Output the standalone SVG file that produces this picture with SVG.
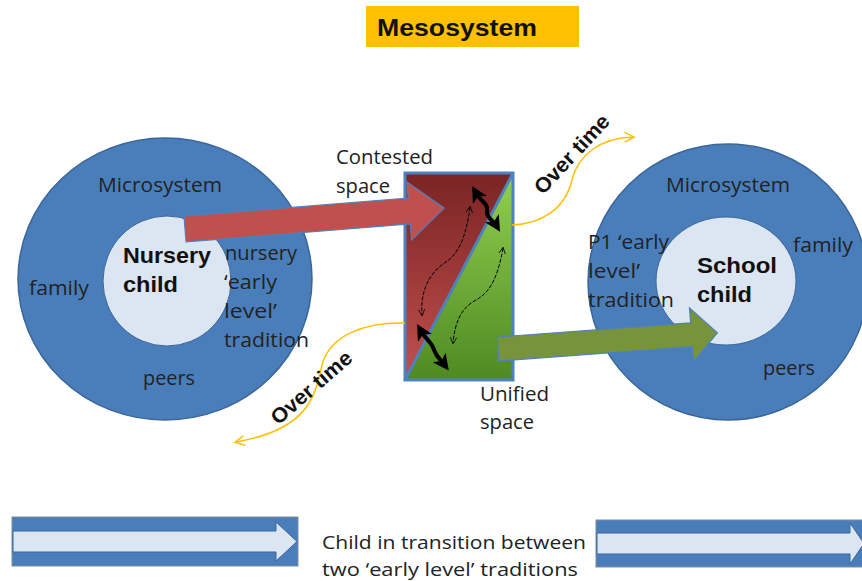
<svg xmlns="http://www.w3.org/2000/svg" width="862" height="581" viewBox="0 0 862 581">
  <style>
    .lbl { font-family: "Open Sans", "Noto Sans", sans-serif; font-size: 20px; fill: #222; }
    .big { font-family: "Liberation Sans", Arial, sans-serif; font-weight: bold; font-size: 22px; fill: #111; }
    .time { font-family: "Liberation Sans", Arial, sans-serif; font-weight: bold; font-size: 21px; fill: #111; }
    .leg { font-family: "Open Sans", "Noto Sans", sans-serif; font-size: 19px; fill: #222; }
    .outer { fill: #4A7EBB; stroke: #3A6699; stroke-width: 1.5; }
    .inner { fill: #DCE6F2; stroke: #3A6699; stroke-width: 1; }
    .thick { fill: none; stroke: #000; stroke-width: 4; }
    .thin { fill: none; stroke: #000; stroke-width: 1; stroke-dasharray: 4 1.5; }
    .flow { fill: none; stroke: #FFC000; stroke-width: 1.5; }
  </style>
  <defs>
    <linearGradient id="redFill" x1="0" y1="0" x2="0" y2="1">
      <stop offset="0" stop-color="#7A2424"/>
      <stop offset="1" stop-color="#C0504D"/>
    </linearGradient>
    <linearGradient id="greenFill" x1="0" y1="0" x2="0" y2="1">
      <stop offset="0" stop-color="#92D050"/>
      <stop offset="1" stop-color="#4E8A22"/>
    </linearGradient>
    <marker id="headThick" viewBox="0 0 10 10" refX="5" refY="5" markerWidth="4" markerHeight="4" orient="auto-start-reverse">
      <path d="M0,0 L10,5 L0,10 L2.5,5 Z" fill="#000"/>
    </marker>
    <marker id="headThin" viewBox="0 0 10 10" refX="8" refY="5" markerWidth="8" markerHeight="8" orient="auto-start-reverse">
      <path d="M1,1 L9,5 L1,9" fill="none" stroke="#000" stroke-width="1"/>
    </marker>
    <marker id="headFlow" viewBox="0 0 10 10" refX="8" refY="5" markerWidth="8" markerHeight="8" orient="auto">
      <path d="M1,1 L9,5 L1,9" fill="none" stroke="#FFC000" stroke-width="1.2"/>
    </marker>
  </defs>

  <!-- title -->
  <g id="title">
    <rect x="366" y="6" width="213" height="41" fill="#FFC000"/>
    <text x="377" y="36" font-family="Liberation Sans, Arial, sans-serif" font-weight="bold" font-size="24" fill="#111" textLength="160" lengthAdjust="spacingAndGlyphs">Mesosystem</text>
  </g>

  <!-- nursery microsystem -->
  <g id="nursery">
    <ellipse class="outer" cx="165" cy="279" rx="147" ry="141"/>
    <ellipse class="inner" cx="167" cy="281" rx="64" ry="65"/>
    <text class="lbl" x="98" y="192" textLength="124" lengthAdjust="spacingAndGlyphs">Microsystem</text>
    <text class="big" x="123" y="263" textLength="88" lengthAdjust="spacingAndGlyphs">Nursery</text>
    <text class="big" x="123" y="292" textLength="55" lengthAdjust="spacingAndGlyphs">child</text>
    <text class="lbl" x="225" y="260" textLength="72" lengthAdjust="spacingAndGlyphs">nursery</text>
    <text class="lbl" x="224" y="289" textLength="53" lengthAdjust="spacingAndGlyphs">‘early</text>
    <text class="lbl" x="224" y="318" textLength="53" lengthAdjust="spacingAndGlyphs">level’</text>
    <text class="lbl" x="224" y="347" textLength="85" lengthAdjust="spacingAndGlyphs">tradition</text>
    <text class="lbl" x="29" y="295" textLength="60" lengthAdjust="spacingAndGlyphs">family</text>
    <text class="lbl" x="143" y="385" textLength="52" lengthAdjust="spacingAndGlyphs">peers</text>
  </g>

  <!-- school microsystem -->
  <g id="school">
    <ellipse class="outer" cx="728" cy="282" rx="140" ry="138"/>
    <ellipse class="inner" cx="726" cy="281" rx="70" ry="64"/>
    <text class="lbl" x="666" y="192" textLength="124" lengthAdjust="spacingAndGlyphs">Microsystem</text>
    <text class="lbl" x="588" y="249" textLength="81" lengthAdjust="spacingAndGlyphs">P1 ‘early</text>
    <text class="lbl" x="588" y="278" textLength="52" lengthAdjust="spacingAndGlyphs">level’</text>
    <text class="lbl" x="588" y="307" textLength="86" lengthAdjust="spacingAndGlyphs">tradition</text>
    <text class="lbl" x="793" y="252" textLength="60" lengthAdjust="spacingAndGlyphs">family</text>
    <text class="big" x="697" y="273" textLength="80" lengthAdjust="spacingAndGlyphs">School</text>
    <text class="big" x="697" y="302" textLength="55" lengthAdjust="spacingAndGlyphs">child</text>
    <text class="lbl" x="763" y="375" textLength="52" lengthAdjust="spacingAndGlyphs">peers</text>
  </g>

  <!-- mesosystem space -->
  <g id="space">
    <polygon points="405,173 513,173 405,380" fill="url(#redFill)"/>
    <polygon points="513,173 513,380 405,380" fill="url(#greenFill)"/>
    <line x1="405" y1="380" x2="513" y2="173" stroke="#4F81BD" stroke-width="3"/>
    <rect x="405" y="173" width="108" height="207" fill="none" stroke="#4F81BD" stroke-width="3"/>
    <text class="lbl" x="336" y="164" textLength="97" lengthAdjust="spacingAndGlyphs">Contested</text>
    <text class="lbl" x="336" y="193" textLength="54" lengthAdjust="spacingAndGlyphs">space</text>
    <text class="lbl" x="480" y="401" textLength="69" lengthAdjust="spacingAndGlyphs">Unified</text>
    <text class="lbl" x="480" y="429" textLength="54" lengthAdjust="spacingAndGlyphs">space</text>
  </g>

  <!-- connectors -->
  <g id="connectors">
    <!-- nursery to contested space -->
    <polygon transform="translate(185,229) rotate(-4.6)" points="0,-13 225,-13 225,-29 260,0 225,29 225,13 0,13" fill="#C0504D" stroke="#4F81BD" stroke-width="1.2"/>
    <!-- unified space to school -->
    <polygon transform="translate(498,349) rotate(-4.2)" points="0,-12 194,-12 194,-27 220,0 194,27 194,12 0,12" fill="#77933C" stroke="#4F81BD" stroke-width="1.2"/>

    <!-- movement inside the space -->
    <path class="thick" d="M476,193 C481,202 488,203 487,210 C486,218 493,220 496,225" marker-start="url(#headThick)" marker-end="url(#headThick)"/>
    <path class="thick" d="M421,331 C426,340 432,342 434,350 C437,358 441,360 444,364" marker-start="url(#headThick)" marker-end="url(#headThick)"/>
    <path class="thin" d="M470,207 C466,238 458,254 446,262 C430,272 420,290 422,315" marker-start="url(#headThin)" marker-end="url(#headThin)"/>
    <path class="thin" d="M503,248 C497,283 487,294 476,300 C461,308 455,322 453,343" marker-start="url(#headThin)" marker-end="url(#headThin)"/>

    <!-- over time -->
    <path class="flow" d="M512,225 C540,224 565,210 572,180 C578,155 600,138 633,137" marker-end="url(#headFlow)"/>
    <path class="flow" d="M405,323 C365,322 330,335 322,365 C315,400 305,430 236,442" marker-end="url(#headFlow)"/>
    <text class="time" transform="translate(577,159) rotate(-47)" text-anchor="middle" textLength="100" lengthAdjust="spacingAndGlyphs">Over time</text>
    <text class="time" transform="translate(316,393) rotate(-41)" text-anchor="middle" textLength="100" lengthAdjust="spacingAndGlyphs">Over time</text>
  </g>

  <!-- legend -->
  <g id="legend">
    <rect x="12" y="517" width="286" height="49" fill="#4A7EBB" stroke="#7F8C9C" stroke-width="1"/>
    <polygon points="13,531 276,531 276,522 297,541.5 276,561 276,552 13,552" fill="#DCE6F2" stroke="#3A6699" stroke-width="1"/>
    <rect x="596" y="520" width="270" height="47" fill="#4A7EBB" stroke="#7F8C9C" stroke-width="1"/>
    <polygon points="597,533 850,533 850,523 864,543.5 850,564 850,554 597,554" fill="#DCE6F2" stroke="#3A6699" stroke-width="1"/>
    <text class="leg" x="322" y="549" textLength="264" lengthAdjust="spacingAndGlyphs">Child in transition between</text>
    <text class="leg" x="322" y="576" textLength="256" lengthAdjust="spacingAndGlyphs">two ‘early level’ traditions</text>
  </g>
</svg>
